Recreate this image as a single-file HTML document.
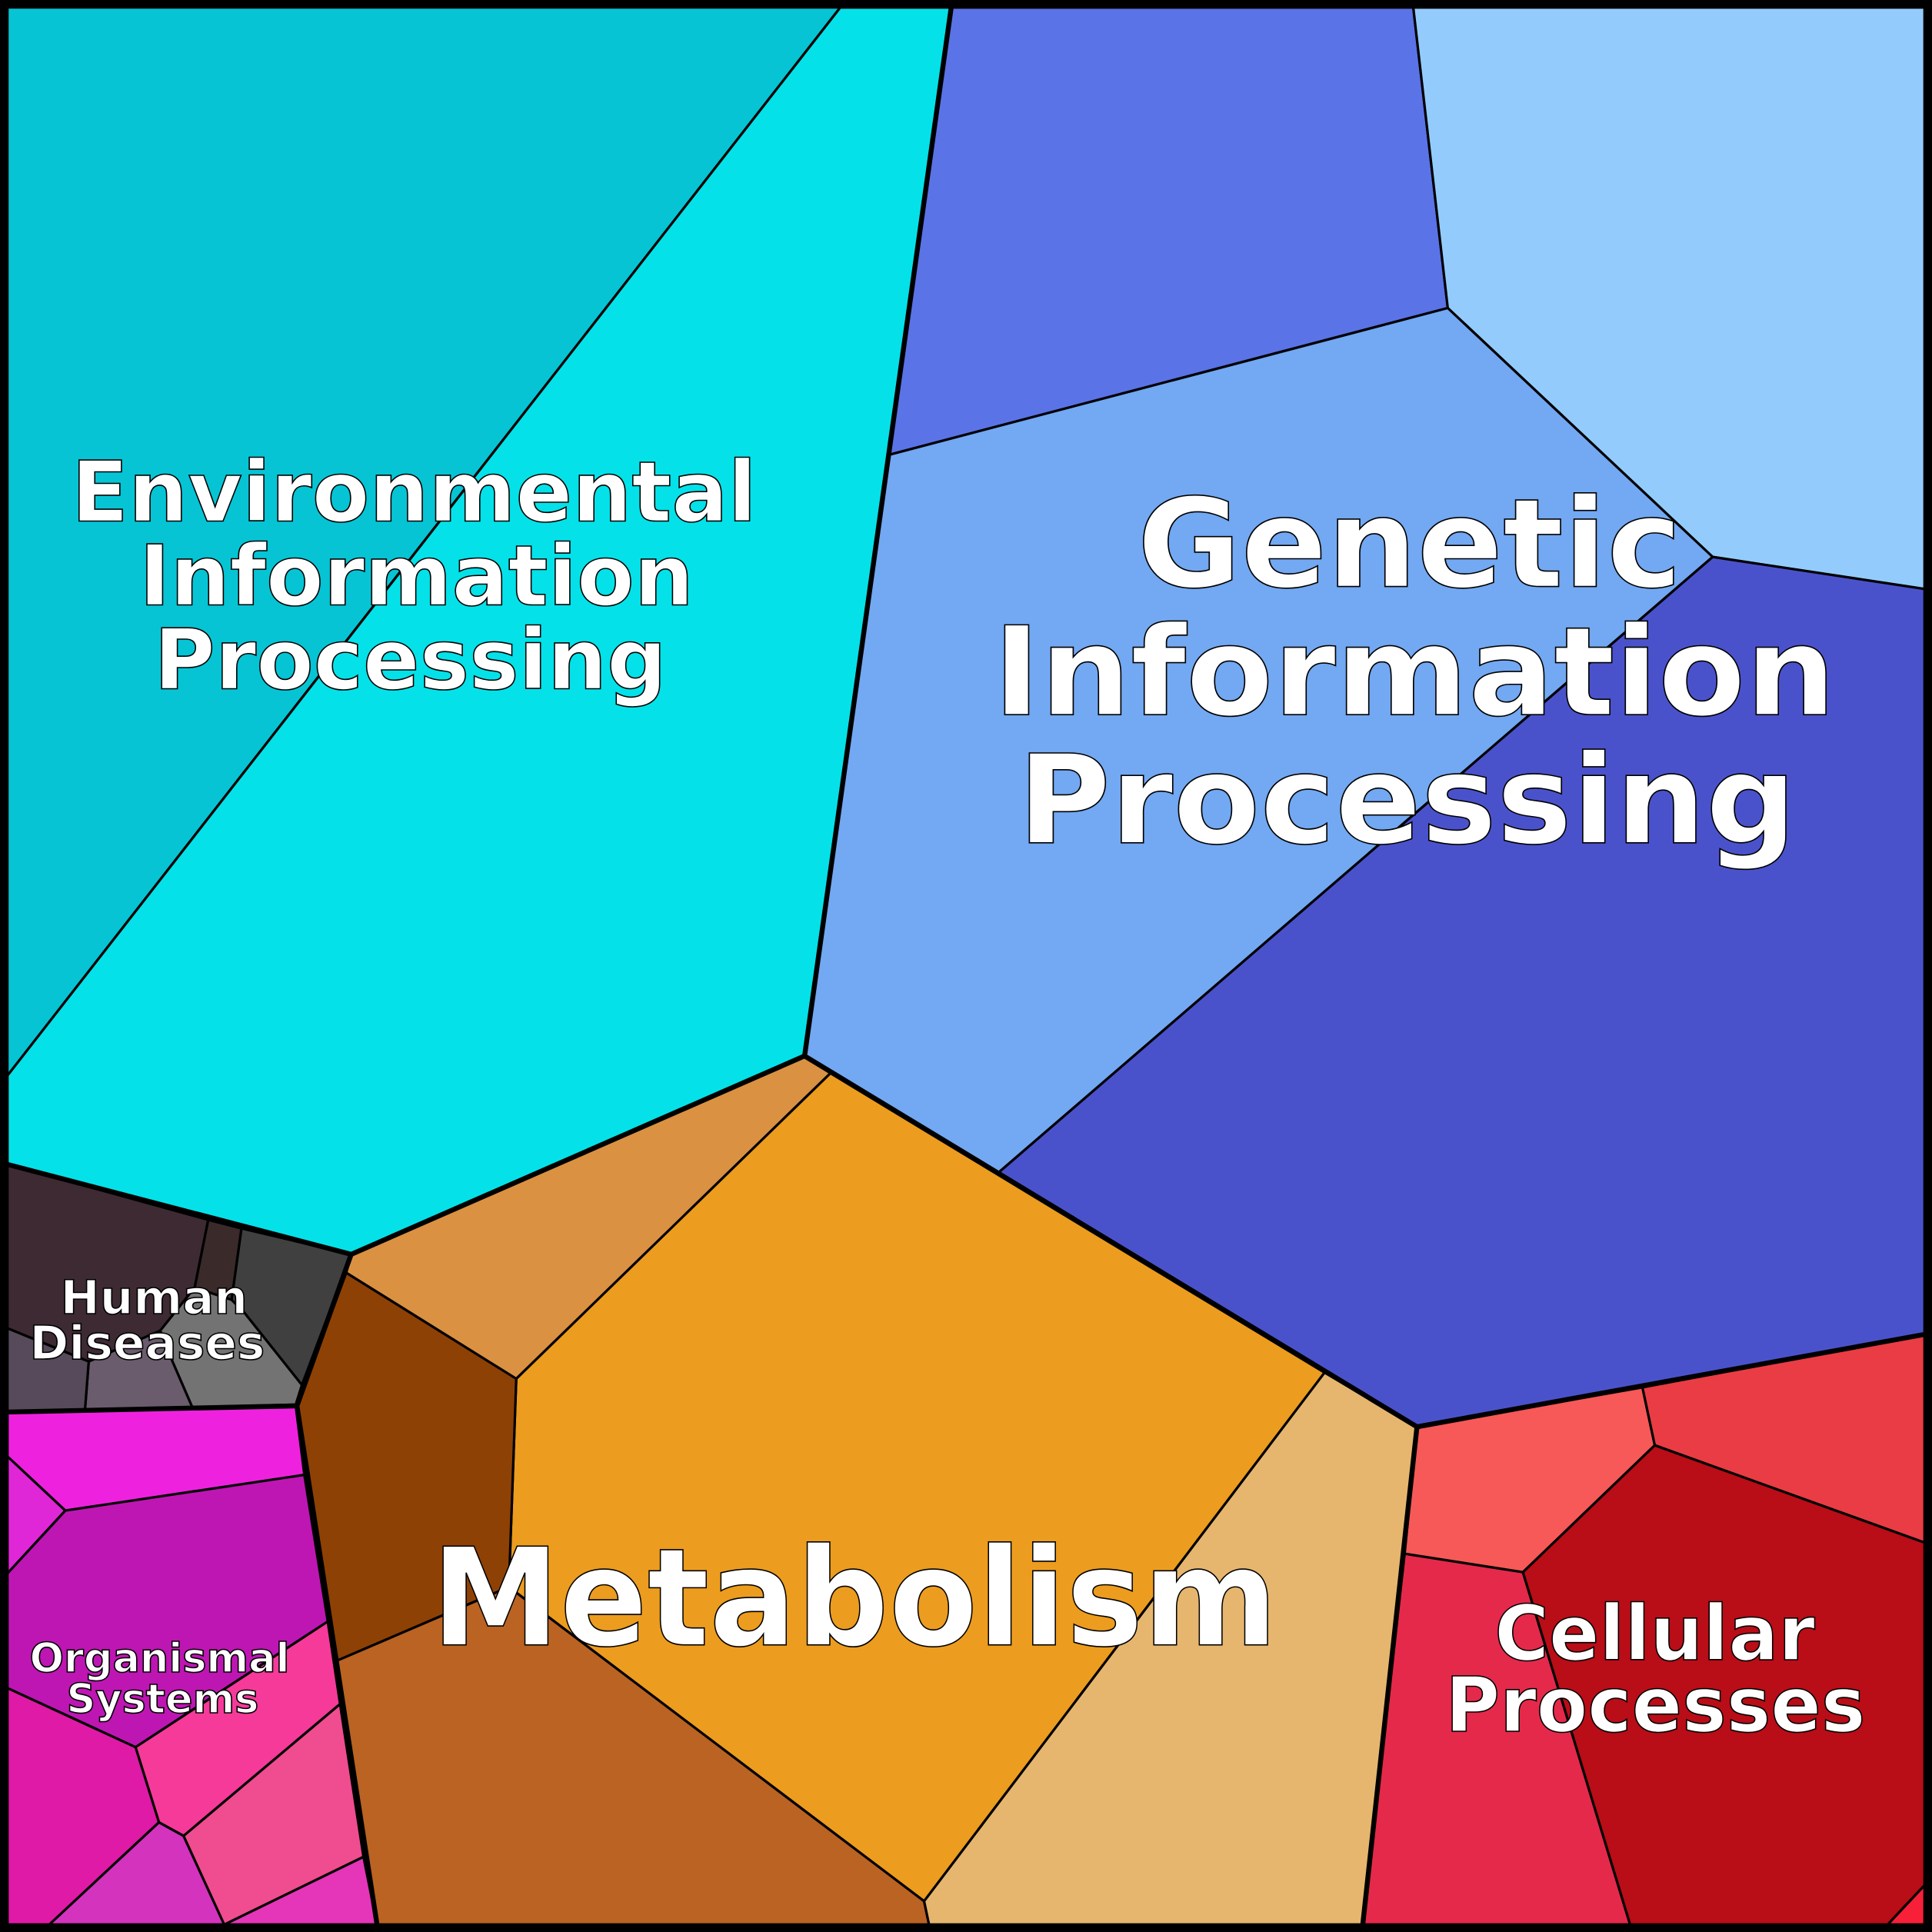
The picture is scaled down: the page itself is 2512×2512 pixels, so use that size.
<!DOCTYPE html>
<html><head><meta charset="utf-8"><style>html,body{margin:0;padding:0;background:#000}svg{display:block}</style></head><body>
<svg width="2512" height="2512" viewBox="0 0 1568 1568" xmlns="http://www.w3.org/2000/svg">
<rect width="1568" height="1568" fill="#000"/>
<g stroke="#000" stroke-width="2" stroke-linejoin="round">
<polygon fill="#06C4D4" points="0,0 682,0 682,6 6,873 0,880"/>
<polygon fill="#05E1E8" points="682,6 772,6 653,857 285,1018 6,945 6,873"/>
<polygon fill="#5A73E6" points="772,6 1147,6 1175,250 722,369"/>
<polygon fill="#93CCFC" points="1147,6 1562,6 1562,478 1390,452 1175,250"/>
<polygon fill="#73A8F2" points="722,369 1175,250 1390,452 810,952 653,857"/>
<polygon fill="#4A52CB" points="1390,452 1562,478 1562,1083 1150,1158 810,952"/>
<polygon fill="#DA9142" points="653,857 674,871 419,1119 281,1033 285,1018"/>
<polygon fill="#EC9C1E" points="674,871 1075,1114 750,1543 413,1288 419,1119"/>
<polygon fill="#8E4104" points="281,1033 419,1119 413,1288 273,1348 241,1141"/>
<polygon fill="#BA6322" points="273,1348 413,1288 750,1543 754,1562 306,1562"/>
<polygon fill="#E6B66E" points="1075,1114 1150,1158 1106,1562 754,1562 750,1543"/>
<polygon fill="#F75858" points="1150,1158 1333,1126 1343,1173 1236,1276 1140,1261"/>
<polygon fill="#EA3C44" points="1333,1126 1562,1083 1562,1252 1343,1173"/>
<polygon fill="#E5294A" points="1140,1261 1236,1276 1323,1562 1106,1562"/>
<polygon fill="#B90D17" points="1236,1276 1343,1173 1562,1252 1562,1530 1532,1562 1323,1562"/>
<polygon fill="#F72038" points="1562,1530 1562,1562 1532,1562"/>
<polygon fill="#3E2A33" points="6,945 169,990 158,1045 130,1080 72,1105 6,1078"/>
<polygon fill="#3A2A2A" points="169,990 196,997 188,1055 158,1045"/>
<polygon fill="#414040" points="196,997 285,1018 245,1124 198,1065 188,1055"/>
<polygon fill="#737373" points="130,1080 158,1045 188,1055 198,1065 245,1124 240,1140 156,1142 140,1105"/>
<polygon fill="#6A5B6D" points="72,1105 130,1080 140,1105 156,1142 69,1144"/>
<polygon fill="#574A5A" points="6,1078 72,1105 69,1144 6,1146"/>
<polygon fill="#EE22DE" points="6,1146 240,1141 247,1197 53,1226 6,1182"/>
<polygon fill="#E027D8" points="6,1182 53,1226 6,1277"/>
<polygon fill="#BE16B3" points="6,1277 53,1226 247,1197 266,1316 110,1418 6,1370"/>
<polygon fill="#F53A9A" points="110,1418 266,1316 276,1383 149,1490 129,1479"/>
<polygon fill="#DE1AA6" points="6,1370 110,1418 129,1479 40,1562 6,1562"/>
<polygon fill="#D433BE" points="40,1562 129,1479 149,1490 182,1562"/>
<polygon fill="#F04C90" points="149,1490 276,1383 295,1507 182,1562"/>
<polygon fill="#E535B8" points="182,1562 295,1507 306,1562"/>
</g>
<g fill="none" stroke="#000" stroke-width="4" stroke-linejoin="round">
<polyline points="772,6 653,857 285,1018 6,945"/>
<polyline points="653,857 1150,1158 1562,1083"/>
<polyline points="1150,1158 1106,1562"/>
<polyline points="285,1018 241,1141 306,1562"/>
<polyline points="6,1146 241,1141"/>
<rect x="3.5" y="3.5" width="1561" height="1561" stroke-width="7"/>
</g>
<g font-family="'DejaVu Sans','Liberation Sans',sans-serif" font-weight="bold" fill="#fff" stroke="#000" stroke-width="1" text-anchor="start" lengthAdjust="spacingAndGlyphs">
<text x="58" y="423" font-size="68" textLength="556" lengthAdjust="spacingAndGlyphs">Environmental</text>
<text x="113" y="491" font-size="68" textLength="450" lengthAdjust="spacingAndGlyphs">Information</text>
<text x="125" y="559" font-size="68" textLength="416" lengthAdjust="spacingAndGlyphs">Processing</text>
<text x="923" y="476" font-size="100" textLength="442" lengthAdjust="spacingAndGlyphs">Genetic</text>
<text x="806" y="580" font-size="100" textLength="684" lengthAdjust="spacingAndGlyphs">Information</text>
<text x="826" y="684" font-size="100" textLength="632" lengthAdjust="spacingAndGlyphs">Processing</text>
<text x="350" y="1335" font-size="110" textLength="687" lengthAdjust="spacingAndGlyphs">Metabolism</text>
<text x="1213" y="1347" font-size="62" textLength="260" lengthAdjust="spacingAndGlyphs">Cellular</text>
<text x="1173" y="1405" font-size="62" textLength="341" lengthAdjust="spacingAndGlyphs">Processes</text>
<text x="49" y="1066" font-size="38" textLength="152" lengthAdjust="spacingAndGlyphs">Human</text>
<text x="24" y="1103" font-size="38" textLength="191" lengthAdjust="spacingAndGlyphs">Diseases</text>
<text x="24" y="1357" font-size="33" textLength="211" lengthAdjust="spacingAndGlyphs">Organismal</text>
<text x="54" y="1390" font-size="33" textLength="156" lengthAdjust="spacingAndGlyphs">Systems</text>
</g>
</svg>
</body></html>
